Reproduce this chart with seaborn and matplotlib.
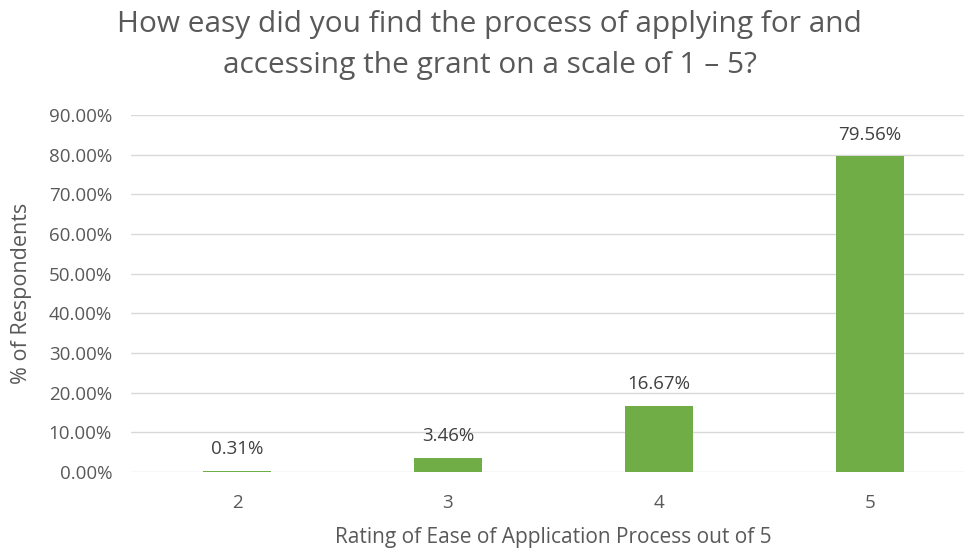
import matplotlib
matplotlib.use("Agg")
import matplotlib.pyplot as plt
import pandas as pd
import seaborn as sns

ratings = ["2", "3", "4", "5"]
percent = [0.31, 3.46, 16.67, 79.56]
yticks = [0, 10, 20, 30, 40, 50, 60, 70, 80, 90]

sns.set_theme(style="white")
plt.rcParams["font.family"] = ["Open Sans", "DejaVu Sans"]

data = pd.DataFrame({"rating": ratings, "percent": percent})

fig = plt.figure(figsize=(9.64, 5.5), dpi=100)
ax = fig.add_axes([0.1364, 0.142, 0.8755, 0.649])
sns.barplot(data, x="rating", y="percent", color="#70AD47", width=0.32,
            saturation=1, linewidth=0, ax=ax, zorder=3)
ax.set_xlim(-0.5, 3.5)

ax.set_ylim(0, 90)
ax.set_yticks(yticks)
ax.set_yticklabels([f"{v:.2f}%" for v in yticks])
ax.yaxis.grid(True, color="#D9D9D9", linewidth=1, zorder=0)
sns.despine(ax=ax, left=True, bottom=True)
ax.tick_params(axis="y", colors="#595959", labelsize=13.5, length=0, pad=14)
ax.tick_params(axis="x", colors="#595959", labelsize=13.5, length=0, pad=16)

for i, v in enumerate(percent):
    ax.text(i, v + 3.2, f"{v:.2f}%", ha="center", va="bottom",
            fontsize=13.5, color="#404040")

ax.set_xlabel("Rating of Ease of Application Process out of 5",
              fontsize=15, color="#595959", labelpad=11)
ax.set_ylabel("% of Respondents", fontsize=15.5, color="#595959", labelpad=12)
fig.suptitle("How easy did you find the process of applying for and\n"
             "accessing the grant on a scale of 1 \u2013 5?",
             x=0.508, fontsize=21.5, color="#595959", y=0.982, linespacing=1.55)

fig.savefig("out.png", dpi=100)
